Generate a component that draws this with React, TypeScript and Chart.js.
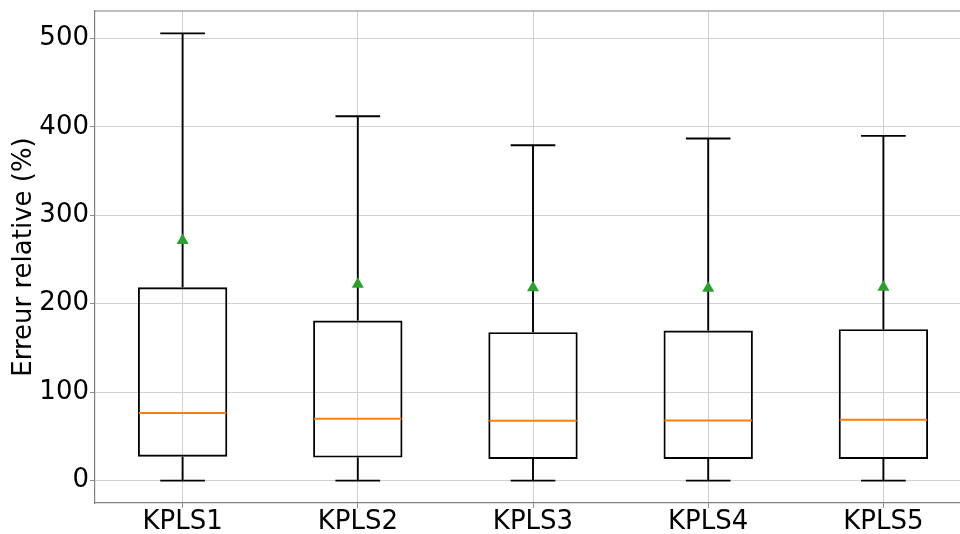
import React, { useEffect, useRef } from "react";
import { Chart, registerables } from "chart.js";

Chart.register(...registerables);

const categories = ["KPLS1", "KPLS2", "KPLS3", "KPLS4", "KPLS5"];
const whiskerLow = [0, 0, 0, 0, 0];
const q1 = [27, 26, 24.5, 24.5, 24.5];
const medians = [76.5, 70, 67.7, 68, 68.8];
const q3 = [218.5, 181, 167.8, 169.7, 171.2];
const whiskerHigh = [505.6, 412, 379.2, 386.8, 389.7];
const means = [271.5, 222, 218, 217.5, 218.5];
const yTicks = [0, 100, 200, 300, 400, 500];
const yMin = -25.3;
const yMax = 530.9;

const FONT = "'DejaVu Sans', 'Liberation Sans', sans-serif";
const FS = 26;
const LW = 1.9;

const boxPlugin = {
  id: "boxExtras",
  beforeDatasetsDraw(chart: any) {
    const ctx = chart.ctx;
    const xs = chart.scales.x;
    const ys = chart.scales.y;
    const meta = chart.getDatasetMeta(1);
    ctx.save();
    ctx.strokeStyle = "#000";
    ctx.lineWidth = LW;
    categories.forEach((_, i) => {
      const x = xs.getPixelForValue(i);
      const bw = meta.data[i] ? meta.data[i].width : 88;
      const cap = bw / 4;
      const yl = ys.getPixelForValue(whiskerLow[i]);
      const y1 = ys.getPixelForValue(q1[i]);
      const y3 = ys.getPixelForValue(q3[i]);
      const yh = ys.getPixelForValue(whiskerHigh[i]);
      ctx.beginPath();
      ctx.moveTo(x, y1);
      ctx.lineTo(x, yl);
      ctx.moveTo(x - cap, yl);
      ctx.lineTo(x + cap, yl);
      ctx.moveTo(x, y3);
      ctx.lineTo(x, yh);
      ctx.moveTo(x - cap, yh);
      ctx.lineTo(x + cap, yh);
      ctx.stroke();
    });
    ctx.restore();
  },
  afterDatasetDraw(chart: any, args: any) {
    if (args.index !== 1) return;
    const ctx = chart.ctx;
    const xs = chart.scales.x;
    const ys = chart.scales.y;
    const meta = chart.getDatasetMeta(1);
    ctx.save();
    ctx.strokeStyle = "#ff7f0e";
    ctx.lineWidth = LW;
    categories.forEach((_, i) => {
      const x = xs.getPixelForValue(i);
      const bw = meta.data[i] ? meta.data[i].width : 88;
      const ym = ys.getPixelForValue(medians[i]);
      ctx.beginPath();
      ctx.moveTo(x - bw / 2 + 1, ym);
      ctx.lineTo(x + bw / 2 - 1, ym);
      ctx.stroke();
    });
    ctx.restore();
  },
  afterDraw(chart: any) {
    const ctx = chart.ctx;
    const a = chart.chartArea;
    ctx.save();
    ctx.strokeStyle = "#808080";
    ctx.lineWidth = 1.2;
    ctx.beginPath();
    ctx.moveTo(a.left, a.top);
    ctx.lineTo(a.right, a.top);
    ctx.lineTo(a.right, a.bottom);
    ctx.stroke();
    ctx.restore();
  },
};

export default function App() {
  const ref = useRef<HTMLCanvasElement | null>(null);
  useEffect(() => {
    if (!ref.current) return;
    const chart = new Chart(ref.current, {
      type: "bar",
      data: {
        labels: categories,
        datasets: [
          {
            type: "line",
            label: "Moyenne",
            data: means,
            showLine: false,
            pointStyle: "triangle",
            pointRadius: 7,
            pointBackgroundColor: "#2ca02c",
            pointBorderColor: "#2ca02c",
            pointBorderWidth: 0,
            order: 0,
          } as any,
          {
            type: "bar",
            label: "Boîtes",
            data: categories.map((_, i) => [q1[i], q3[i]]),
            backgroundColor: "rgba(0,0,0,0)",
            borderColor: "#000",
            borderWidth: LW,
            borderSkipped: false,
            barPercentage: 0.51,
            categoryPercentage: 1,
            order: 1,
          } as any,
        ],
      },
      options: {
        animation: false,
        responsive: true,
        maintainAspectRatio: false,
        layout: { padding: { top: 11, right: 0, left: 0, bottom: 0 } },
        plugins: {
          legend: { display: false },
          tooltip: { enabled: false },
        },
        scales: {
          x: {
            offset: true,
            grid: {
              offset: false,
              color: "#d0d0d0",
              lineWidth: 1,
              drawTicks: true,
              tickLength: 5,
              tickColor: "#909090",
            },
            border: { color: "#808080", width: 1.2 },
            ticks: {
              color: "#000",
              font: { family: FONT, size: FS },
              padding: -1,
              maxRotation: 0,
            },
            afterFit: (s: any) => {
              s.height = 31;
              s.paddingLeft = 0;
              s.paddingRight = 0;
            },
          },
          y: {
            min: yMin,
            max: yMax,
            grid: {
              color: "#d0d0d0",
              lineWidth: 1,
              drawTicks: true,
              tickLength: 5,
              tickColor: "#909090",
            },
            border: { color: "#808080", width: 1.2 },
            ticks: {
              color: "#000",
              font: { family: FONT, size: FS },
              padding: 1,
            },
            afterBuildTicks: (s: any) => {
              s.ticks = yTicks.map((v) => ({ value: v }));
            },
            afterFit: (s: any) => {
              s.width = 95;
              s.paddingTop = 0;
              s.paddingBottom = 0;
            },
            title: {
              display: true,
              text: "Erreur relative (%)",
              color: "#000",
              font: { family: FONT, size: FS },
              padding: { top: 9, bottom: 0 },
            },
          },
        },
      },
      plugins: [boxPlugin],
    });
    return () => chart.destroy();
  }, []);
  return (
    <div style={{ position: "fixed", left: 0, top: 0, width: "978px", height: "534px", background: "#fff" }}>
      <canvas ref={ref} />
    </div>
  );
}
